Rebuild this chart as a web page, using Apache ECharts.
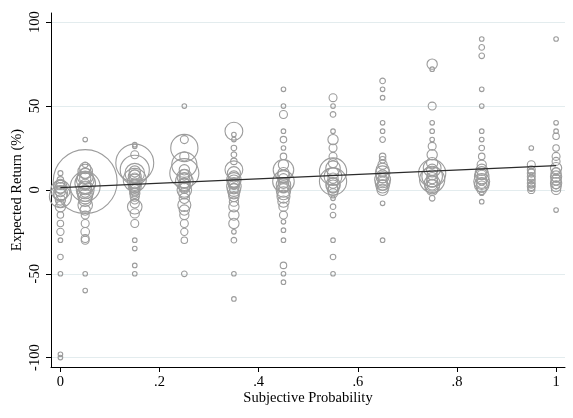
<!DOCTYPE html>
<html><head><meta charset="utf-8">
<script src="https://cdn.jsdelivr.net/npm/echarts@6/dist/echarts.min.js"></script>
<style>html,body{margin:0;padding:0;background:#fff}#c{width:573px;height:418px}</style>
</head><body><div id="c"></div>
<script>
// Subjective probability of each column
const probs = [0, 0.05, 0.15, 0.25, 0.35, 0.45, 0.55, 0.65, 0.75, 0.85, 0.95, 1];
// Expected return (%) and weight per column: [return, weight]
const p000 = [[10,1.2],[6,2],[4,3],[3,4],[2,8],[1,6],[0,18],[-1,5],[-2,10],[-4,23],[-3,8],[-6,5],[-8,3],[-10,5],[-15,2],[-20,2],[-25,2.5],[-30,1],[-40,1.5],[-50,1],[-98,1],[-100,1]];
const p005 = [[30,1],[15,1.5],[13,6],[11,10],[10,5],[8,12],[7,6],[5,193],[6,15],[4,20],[3,6],[2,42],[1,8],[0,15],[-1,6],[-2,12],[-4,10],[-6,8],[-9,10],[-12,5],[-15,3],[-20,3],[-25,3.5],[-29,3],[-30,3],[-50,1],[-60,1]];
const p015 = [[27,1],[26,1],[21,3],[16,68],[12,40],[11,6],[10,18],[9,5],[8,8],[7,5],[6,25],[5,10],[4,5],[3,6],[2,8],[1,5],[0,5],[-1,4],[-2,5],[-4,4],[-6,3],[-8,4],[-10,10],[-14,4],[-20,3],[-30,1],[-35,1],[-45,1],[-50,1]];
const p025 = [[50,1],[30,3],[25,35],[20,4],[15,30],[12,5],[10,40],[9,5],[8,10],[7,5],[5,15],[4,5],[3,8],[2,6],[1,5],[0,10],[-2,6],[-5,5],[-9,8],[-12,5],[-15,4],[-20,3],[-25,2.5],[-30,2],[-50,1.5]];
const p035 = [[35,15],[33,1],[30,1],[25,1.5],[21,1.5],[17,2],[12,15],[10,8],[8,6],[6,10],[5,8],[4,6],[3,4],[2,10],[1,4],[0,8],[-2,6],[-4,5],[-7,4],[-10,5],[-15,5],[-20,5],[-25,1],[-30,1.5],[-50,1],[-65,1]];
const p045 = [[60,1],[50,1],[45,3],[35,1],[30,2],[25,1],[20,2],[15,5],[12,20],[10,6],[8,8],[7,4],[5,22],[4,5],[3,10],[2,6],[1,4],[0,10],[-2,8],[-4,8],[-7,6],[-10,4],[-15,3],[-19,1],[-24,1],[-30,1],[-45,2],[-50,1],[-55,1]];
const p055 = [[55,3],[50,1],[45,1.5],[35,1],[30,5],[25,3],[20,3],[16,4],[13,10],[11,35],[10,6],[8,15],[7,5],[5,35],[4,5],[3,10],[2,8],[1,4],[0,6],[-2,4],[-5,1],[-10,1.5],[-15,1.5],[-30,1],[-40,1.5],[-50,1]];
const p065 = [[65,1.5],[60,1],[55,1],[40,1],[35,1],[30,1.5],[20,2],[18,2],[15,4],[12,8],[10,10],[8,8],[7,4],[6,12],[5,4],[4,10],[3,5],[2,8],[0,6],[-8,1],[-30,1]];
const p075 = [[75,5],[72,1],[50,3],[40,1],[35,1],[30,1],[26,3],[21,5],[16,6],[13,15],[12,6],[10,35],[9,5],[8,20],[7,6],[6,30],[5,6],[4,12],[3,5],[2,10],[0,6],[-5,1.5]];
const p085 = [[90,1],[85,1.5],[80,1.5],[60,1],[50,1],[35,1],[30,1],[25,1.5],[20,2],[15,4],[12,6],[10,8],[9,4],[8,10],[6,5],[5,12],[4,5],[3,10],[2,6],[0,4],[-2,1],[-7,1]];
const p095 = [[25,1],[15,3],[12,3],[11,2],[10,3],[8,3],[7,2],[6,3],[4,3],[3,2],[2,3],[1,2],[0,2.5]];
const p100 = [[90,1],[40,1],[35,1],[32,2],[25,2],[20,3],[17,3],[13,6],[11,3],[10,5],[8,6],[7,3],[6,5],[4,6],[3,3],[2,5],[0,4],[-12,1]];
// Fitted line
const fitX = [0, 1];
const fitY = [1.4, 14.5];
// Tick labels
const xTicks = [0, 0.2, 0.4, 0.6, 0.8, 1];
const xTickLabels = ['0', '.2', '.4', '.6', '.8', '1'];
const yTicks = [-100, -50, 0, 50, 100];

const columns = [p000, p005, p015, p025, p035, p045, p055, p065, p075, p085, p095, p100];
const scatterData = [];
columns.forEach((col, i) => col.forEach(d => scatterData.push([probs[i], d[0], d[1]])));

const font = '"Liberation Serif", "Times New Roman", serif';
const chart = echarts.init(document.getElementById('c'), null, {renderer: 'canvas'});
chart.setOption({
  animation: false,
  backgroundColor: '#fff',
  grid: {left: 51, right: 8, top: 13, bottom: 51, containLabel: false, outerBoundsMode: 'none'},
  xAxis: {
    type: 'value', min: -0.019, max: 1.018,
    name: 'Subjective Probability', nameLocation: 'middle', nameGap: 24, nameMoveOverlap: false,
    nameTextStyle: {fontFamily: font, fontSize: 14.5, color: '#000'},
    axisLine: {show: true, onZero: false, lineStyle: {color: '#000', width: 1}},
    axisTick: {show: true, length: 5, lineStyle: {color: '#000'}, customValues: xTicks},
    axisLabel: {fontFamily: font, fontSize: 14.5, color: '#000', margin: 8, customValues: xTicks,
      formatter: v => { const i = xTicks.findIndex(t => Math.abs(t - v) < 1e-9); return i >= 0 ? xTickLabels[i] : ''; }},
    splitLine: {show: false}
  },
  yAxis: {
    type: 'value', min: -105.6, max: 105.5,
    name: 'Expected Return (%)', nameLocation: 'middle', nameGap: 26, nameMoveOverlap: false,
    nameTextStyle: {fontFamily: font, fontSize: 14.5, color: '#000'},
    axisLine: {show: true, onZero: false, lineStyle: {color: '#000', width: 1}},
    axisTick: {show: true, length: 5, lineStyle: {color: '#000'}, customValues: yTicks},
    axisLabel: {fontFamily: font, fontSize: 14.5, color: '#000', margin: 8, rotate: 90, customValues: yTicks,
      formatter: v => String(v)},
    splitLine: {show: true, lineStyle: {color: '#e3ecee', width: 1}}
  },
  series: [
    {
      type: 'scatter', silent: true,
      data: scatterData,
      symbol: 'circle',
      symbolSize: d => 4.6 * Math.sqrt(d[2]),
      itemStyle: {color: 'rgba(0,0,0,0)', borderColor: '#9c9c9c', borderWidth: 1.1, opacity: 1},
      z: 2
    },
    {
      type: 'line', silent: true,
      data: fitX.map((x, i) => [x, fitY[i]]),
      symbol: 'none',
      lineStyle: {color: '#2b2b2b', width: 1.2},
      z: 3
    }
  ]
});
</script>
</body></html>
